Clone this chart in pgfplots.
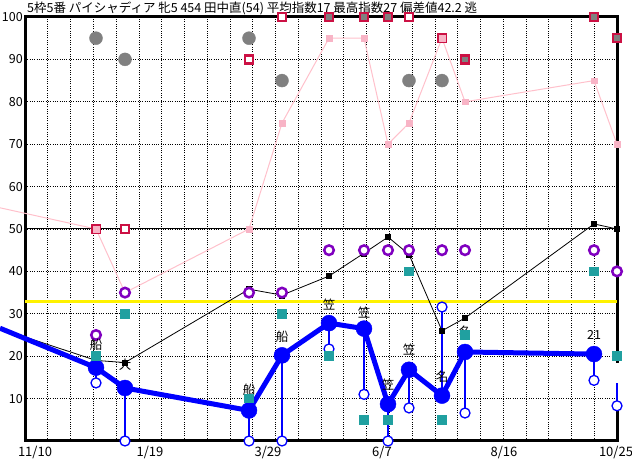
\documentclass[border=0pt]{standalone}
\usepackage{fontspec}
\setmainfont{Noto Sans CJK JP}
\usepackage{pgfplots}
\pgfplotsset{compat=1.18}
\definecolor{crim}{RGB}{204,17,68}
\definecolor{purp}{RGB}{128,0,192}
\definecolor{tealc}{RGB}{32,160,160}
\definecolor{pinkc}{RGB}{255,192,203}
\definecolor{pinkm}{RGB}{248,180,198}
\definecolor{grayc}{RGB}{128,128,128}
\begin{document}
\begin{tikzpicture}[x=1pt,y=1pt]
\path[use as bounding box] (0,0) rectangle (632,460);
\node[anchor=base west, inner sep=0pt, font=\fontsize{12.5}{14}\selectfont] at (27,447) {5枠5番 パイシャディア 牝5 454 田中直(54) 平均指数17 最高指数27 偏差値42.2 逃};
\begin{axis}[
  at={(25pt,19pt)}, anchor=south west,
  width=592pt, height=424pt, scale only axis,
  xmin=25, xmax=617, ymin=0, ymax=100,
  clip=false,
  axis line style={line width=3pt},
  major tick length=0pt,
  xtick={47.77,70.54,93.31,116.08,138.85,161.62,184.38,207.15,229.92,252.69,275.46,298.23,321.0,343.77,366.54,389.31,412.08,434.85,457.62,480.38,503.15,525.92,548.69,571.46,594.23},
  xticklabels={},
  extra x ticks={35,150,268,382,504,616},
  extra x tick labels={11/10,1/19,3/29,6/7,8/16,10/25},
  extra x tick style={grid=none, major tick length=0pt},
  ytick={10,20,30,40,50,60,70,80,90,100},
  xmajorgrids, ymajorgrids,
  grid style={black, line width=0.7pt, dash pattern=on 1pt off 1.3pt},
  /pgf/number format/assume math mode=true,
  yticklabel style={inner sep=2pt, font=\fontsize{12.5}{14}\selectfont},
  xticklabel style={inner sep=4.5pt, font=\fontsize{13}{14}\selectfont},
]
% reference lines
\addplot[black, line width=1pt] coordinates {(25,50) (617,50)};
\addplot[yellow, line width=3pt] coordinates {(25,33) (617,33)};
% gray circles
\addplot[only marks, mark=*, mark size=6.5pt, color=grayc, mark options={fill=grayc, draw=none}] coordinates {
(96,95) (125,90) (249,95) (282,85) (409,85) (442,85)};
% red squares
\addplot[only marks, mark=square*, mark size=4pt, color=crim, mark options={draw=crim, fill=white, line width=2.5pt}] coordinates {
(96,50) (125,50) (249,90) (282,100) (409,100) (442,95)};
\addplot[only marks, mark=square*, mark size=4pt, color=crim, mark options={draw=crim, fill=grayc, line width=2.5pt}] coordinates {
(329,100) (364,100) (388,100) (465,90) (594,100) (617,95)};
% pink line
\addplot[pinkc, line width=1pt] coordinates {
(0,55) (96,50) (125,35) (249,50) (282,75) (329,95) (364,95) (388,70) (409,75) (442,95) (465,80) (594,85) (617,70)};
\addplot[only marks, mark=square*, mark size=2.8pt, color=pinkm, mark options={solid, fill=pinkm, draw=pinkm, line width=0.5pt}] coordinates {
(96,50) (125,35) (249,50) (282,75) (329,95) (364,95) (388,70) (409,75) (442,95) (465,80) (594,85) (617,70)};
% black line
\addplot[black, line width=0.8pt] coordinates {
(0,26.5) (96,19) (125,18.5) (249,35.8) (282,34.4) (329,38.9) (364,44.3) (388,48.1) (409,44) (442,26) (465,29) (594,51.2) (617,50)};
\addplot[only marks, mark=square*, mark size=2.6pt, color=black, mark options={fill=black, draw=none}] coordinates {
(96,19) (125,18.5) (249,35.8) (282,34.4) (329,38.9) (364,44.3) (388,48.1) (409,44) (442,26) (465,29) (594,51.2) (617,50)};
% purple circles
\addplot[only marks, mark=*, mark size=4.8pt, color=purp, mark options={draw=purp, fill=white, line width=2.5pt}] coordinates {
(96,25) (125,35) (249,35) (282,35) (329,45) (364,45) (388,45) (409,45) (442,45) (465,45) (594,45) (617,40)};
% gap in right border
\addplot[white, line width=3.5pt] coordinates {(617,18.5) (617,7)};
% blue drop lines
\addplot[blue, line width=1.3pt, unbounded coords=jump] coordinates {
(96,17.3) (96,13.7) (96,nan)
(125,12.5) (125,0) (125,nan)
(249,7.2) (249,0) (249,nan)
(282,20.2) (282,0) (282,nan)
(329,27.8) (329,21.7) (329,nan)
(364,26.5) (364,11) (364,nan)
(388,8.7) (388,0) (388,nan)
(409,16.8) (409,7.8) (409,nan)
(442,10.7) (442,31.6) (442,nan)
(465,21) (465,6.6) (465,nan)
(594,20.5) (594,14.3) (594,nan)
(617,13.6) (617,8.3)};
\addplot[only marks, mark=*, mark size=5pt, color=blue, mark options={draw=blue, fill=white, line width=1.3pt}] coordinates {
(96,13.7) (125,0) (249,0) (282,0) (329,21.7) (364,11) (388,0) (409,7.8) (442,31.6) (465,6.6) (594,14.3) (617,8.3)};
% blue main line
\addplot[blue, line width=5pt, line join=round] coordinates {
(0,26.6) (96,17.3) (125,12.5) (249,7.2) (282,20.2) (329,27.8) (364,26.5) (388,8.7) (409,16.8) (442,10.7) (465,21) (594,20.5)};
\addplot[only marks, mark=*, mark size=8pt, color=blue, mark options={fill=blue, draw=none}] coordinates {
(96,17.3) (125,12.5) (249,7.2) (282,20.2) (329,27.8) (364,26.5) (388,8.7) (409,16.8) (442,10.7) (465,21) (594,20.5)};
% labels
\addplot[draw=none, mark=none, nodes near coords, point meta=explicit symbolic,
  nodes near coords style={anchor=center, inner sep=0pt, black, font=\fontsize{12.5}{14}\selectfont}]
  table[meta=t] {
x y t
96 22.6 船
125 17.9 大
249 12.0 船
282 24.5 船
329 32.1 笠
364 30.4 笠
388 13.2 笠
409 21.5 笠
442 15.1 名
465 25.7 名
594 25.0 21
};
% teal squares
\addplot[only marks, mark=square*, mark size=4.3pt, color=tealc, mark options={fill=tealc, draw=tealc, line width=0pt}] coordinates {
(96,20) (125,30) (249,10) (282,30) (329,20) (364,5) (388,5) (409,40) (442,5) (465,25) (594,40) (617,20)};
\end{axis}
\end{tikzpicture}
\end{document}
